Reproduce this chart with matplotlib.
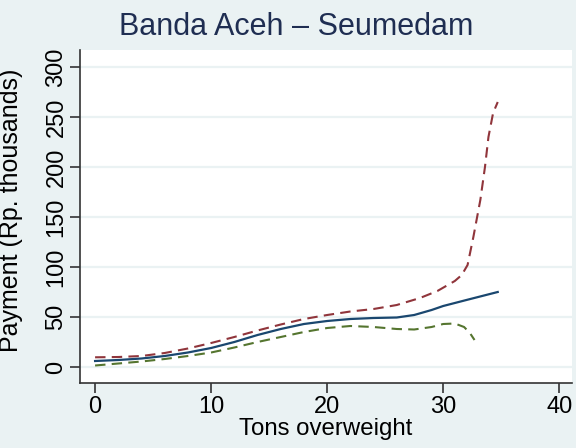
import numpy as np
import matplotlib
matplotlib.use("Agg")
import matplotlib.pyplot as plt

plt.rcParams['font.family'] = ['Liberation Sans', 'DejaVu Sans']

# fitted payment (solid) and confidence bounds (dashed)
fit_x = [0, 2, 4, 6, 8, 10, 12, 14, 16, 18, 20, 22, 24, 26, 27.5, 29, 30, 32, 34.7]
fit_y = [6, 7, 8.5, 11, 14.5, 19, 25, 32, 38, 43, 46, 48, 49, 49.5, 52, 57, 61, 67, 75]

upper_x = [0, 2, 4, 6, 8, 10, 12, 14, 16, 18, 20, 22, 24, 26, 28, 29.5, 31, 31.6, 32.1,
           32.6, 33.2, 33.6, 33.9, 34.3, 34.7]
upper_y = [9.7, 10, 11, 14, 18.5, 24, 30, 36.5, 42.5, 48, 52, 55.5, 58, 62, 69, 76, 86,
           92, 102, 130, 167, 200, 230, 254, 265]

lower_x = [0, 2, 4, 6, 8, 10, 12, 14, 16, 18, 20, 22, 24, 26, 27.5, 29, 30, 31, 31.8, 32.3, 32.7]
lower_y = [1.5, 3.5, 5.5, 8, 11, 14.5, 19.5, 25, 30, 35, 39, 41, 40, 38, 37.5, 40, 43, 43.5,
           40, 34, 27]

x_ticks = [0, 10, 20, 30, 40]
y_ticks = [0, 50, 100, 150, 200, 250, 300]

bg = '#EAF2F3'
navy = '#1A476F'
title_navy = '#1F2E52'
maroon = '#90353B'
olive = '#55752F'
W, H = 576, 448

fig = plt.figure(figsize=(W / 100, H / 100), dpi=100, facecolor=bg)
ax = fig.add_axes([80 / W, 1 - 383 / H, 492 / W, 333 / H])
ax.set_facecolor('white')

for t in y_ticks:
    ax.axhline(t, color=bg, lw=1.6, zorder=0)

ax.plot(upper_x, upper_y, color=maroon, lw=1.5, ls=(0, (5, 3)))
ax.plot(lower_x, lower_y, color=olive, lw=1.5, ls=(0, (5, 3)))
ax.plot(fit_x, fit_y, color=navy, lw=1.6)

ax.set_xlim(-1.3, 41.1)
ax.set_ylim(-16, 317)
ax.set_xticks(x_ticks)
ax.set_yticks(y_ticks)
ax.set_yticklabels([str(t) for t in y_ticks], rotation=90, va='center')

for s in ['top', 'right']:
    ax.spines[s].set_visible(False)
for s in ['left', 'bottom']:
    ax.spines[s].set_color('#333333')
    ax.spines[s].set_linewidth(1.2)
ax.tick_params(length=7, width=1.2, color='#333333', labelsize=17, pad=2)

ax.set_xlabel('Tons overweight', fontsize=17.3, labelpad=0)
ax.set_ylabel('Payment (Rp. thousands)', fontsize=18)
ax.yaxis.set_label_coords(-(80 - 23) / 492, (383 - 210) / 333)
fig.text(296 / W, 1 - 35 / H, 'Banda Aceh \u2013 Seumedam', fontsize=22, color=title_navy,
         ha='center', va='baseline')

fig.savefig('out.png', dpi=100, facecolor=bg)
